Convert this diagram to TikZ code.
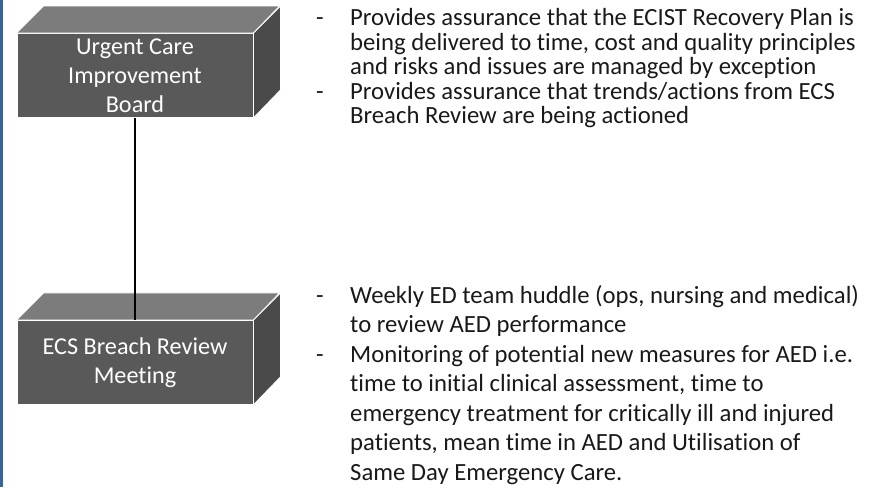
\documentclass[tikz,border=0pt]{standalone}
\usepackage{fontspec}
\setmainfont{Carlito}[Ligatures=NoCommon]
\usepackage{array}
\usepackage{tikz}
\usetikzlibrary{positioning}

\definecolor{barblue}{RGB}{60,99,148}
\definecolor{facefront}{RGB}{89,89,89}
\definecolor{facetop}{RGB}{124,124,124}
\definecolor{faceside}{RGB}{74,74,74}

% dashed list: a narrow column for the dash, the text hangs beside it
\newcommand{\dashlist}[1]{\begin{tabular}[t]{@{}p{34pt}@{}>{\raggedright\arraybackslash}p{530pt}@{}}#1\end{tabular}}
% top and right faces behind a front node
\newcommand{\boxfaces}[1]{%
  \filldraw[boxedge, fill=facetop] (#1.north west) -- ++(27,-27) -- ++(236,0) -- (#1.north east) -- cycle;
  \filldraw[boxedge, fill=faceside] (#1.north east) -- ++(27,-27) -- ++(0,84) -- (#1.south east) -- cycle;}

\begin{document}
\begin{tikzpicture}[x=1pt, y=-1pt,
  boxedge/.style={draw=white, line width=0.9pt},
  board/.style={boxedge, fill=facefront, rectangle, minimum width=236pt, minimum height=84pt,
    inner sep=0pt, align=center, text=white, font=\fontsize{24.2}{29}\selectfont},
  notes/.style={anchor=base west, inner sep=0pt, text=black!90, font=\fontsize{24.7}{24.5}\selectfont}]
  \useasboundingbox (0,0) rectangle (874,487);
  \fill[barblue] (0,0) rectangle (3,487);

  \node[board] (ucib) at (135,75.5) {Urgent Care\\Improvement\\Board};
  \node[board, below=202pt of ucib] (ecsbr) {ECS Breach Review\\Meeting};
  \boxfaces{ucib}
  \boxfaces{ecsbr}
  \draw[line width=2.4pt] (ucib) -- (ecsbr);

  \node[notes] (ucibnotes) at (316,26) {\dashlist{%
    - & Provides assurance that the ECIST Recovery Plan is\newline
        being delivered to time, cost and quality principles\newline
        and risks and issues are managed by exception\\
    - & Provides assurance that trends/actions from ECS\newline
        Breach Review are being actioned}};
  \node[notes, font=\fontsize{24.7}{29.5}\selectfont] (ecsbrnotes) at (316,303) {\dashlist{%
    - & Weekly ED team huddle (ops, nursing and medical)\newline
        to review AED performance\\
    - & Monitoring of potential new measures for AED i.e.\newline
        time to initial clinical assessment, time to\newline
        emergency treatment for critically ill and injured\newline
        patients, mean time in AED and Utilisation of\newline
        Same Day Emergency Care.}};
\end{tikzpicture}
\end{document}
